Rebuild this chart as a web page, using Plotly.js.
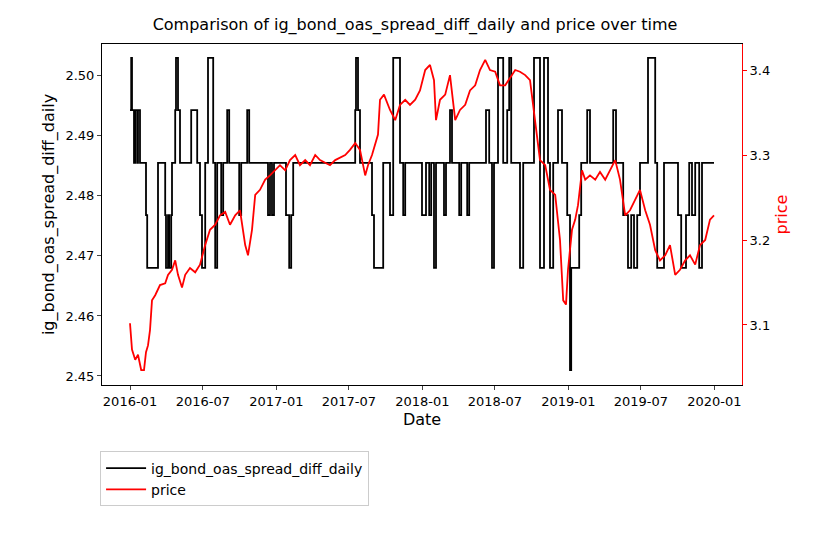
<!DOCTYPE html>
<html>
<head>
<script src="https://cdn.plot.ly/plotly-3.0.1.min.js"></script>
</head>
<body style="margin:0">
<div id="chart" style="width:830px;height:534px"></div>
<script>
// black series: day offsets from 2016-01-01 and levels (step-like)
const spreadDays = [0,2.5,5,10,12.5,17.5,20,25,40,42.5,70,87.5,90,95,97.5,102.5,105,112.5,115,120,125,152.5,167.5,175,180,187.5,195,207.5,212.5,217.5,227.5,232.5,242.5,247.5,272.5,277.5,292.5,297.5,345,350,355,360,390,397.5,402.5,407.5,562.5,565,570,575,605,610,632.5,650,657.5,675,682.5,687.5,730,740,747.5,752.5,760,765,785,790,800,805,822.5,827.5,842.5,847.5,890,897.5,905,910,920,932.5,942.5,947.5,952.5,975,982.5,1010,1025,1035,1045,1050,1057.5,1070,1080,1092.5,1100,1102.5,1122.5,1127.5,1142.5,1150,1207.5,1215,1232.5,1245,1252.5,1260,1267.5,1275,1295,1312.5,1317.5,1335,1370,1377.5,1390,1397.5,1405,1412.5,1422.5,1430,1460];
const spreadVals = [2.4943,2.503,2.4943,2.4855,2.4943,2.4855,2.4943,2.4855,2.4768,2.468,2.4855,2.4768,2.468,2.4768,2.468,2.4768,2.4855,2.4943,2.503,2.4943,2.4855,2.4943,2.4855,2.4768,2.468,2.4855,2.503,2.4855,2.468,2.4855,2.4768,2.4855,2.4943,2.4855,2.4768,2.4855,2.4943,2.4855,2.4768,2.4855,2.4768,2.4855,2.4768,2.468,2.4768,2.4855,2.4943,2.503,2.4943,2.4855,2.4768,2.468,2.4855,2.4768,2.503,2.4855,2.4768,2.4855,2.4768,2.4855,2.4768,2.4855,2.468,2.4855,2.4768,2.4855,2.4943,2.4855,2.4768,2.4855,2.4768,2.4855,2.4943,2.4855,2.468,2.4855,2.503,2.4855,2.4943,2.503,2.4855,2.468,2.4855,2.503,2.468,2.503,2.4855,2.468,2.4855,2.4943,2.4855,2.4768,2.451,2.468,2.4768,2.4855,2.4943,2.4855,2.4943,2.4855,2.4768,2.468,2.4768,2.468,2.4768,2.4855,2.503,2.4855,2.468,2.4855,2.4768,2.468,2.4768,2.4855,2.4768,2.4855,2.468,2.4855,2.4855];

// red series: price
const priceDays = [0,5,12.5,20,27.5,35,40,45,50,55,62.5,75,87.5,95,105,112.5,120,130,137.5,150,162.5,175,187.5,200,212.5,225,237.5,250,262.5,275,287.5,295,305,312.5,325,337.5,350,362.5,375,387.5,400,412.5,425,437.5,450,462.5,475,500,512.5,537.5,550,562.5,575,587.5,595,605,620,625,635,650,662.5,675,687.5,700,712.5,725,737.5,750,760,765,775,787.5,800,812.5,825,837.5,850,862.5,875,887.5,900,912.5,925,937.5,950,962.5,975,987.5,1000,1012.5,1025,1037.5,1050,1062.5,1075,1082.5,1090,1095,1105,1112.5,1120,1130,1137.5,1150,1162.5,1175,1187.5,1200,1212.5,1225,1237.5,1250,1262.5,1275,1287.5,1300,1312.5,1325,1337.5,1350,1362.5,1375,1387.5,1400,1412.5,1425,1437.5,1450,1460];
const priceVals = [3.102,3.071,3.059,3.065,3.047,3.047,3.068,3.076,3.094,3.129,3.135,3.147,3.149,3.159,3.165,3.176,3.159,3.144,3.159,3.167,3.162,3.171,3.194,3.212,3.218,3.229,3.233,3.218,3.229,3.235,3.194,3.182,3.212,3.253,3.259,3.271,3.276,3.282,3.288,3.282,3.294,3.300,3.288,3.294,3.288,3.300,3.294,3.288,3.294,3.300,3.306,3.314,3.306,3.276,3.288,3.300,3.324,3.365,3.371,3.353,3.341,3.359,3.365,3.359,3.365,3.376,3.400,3.406,3.388,3.341,3.365,3.371,3.394,3.341,3.353,3.359,3.376,3.382,3.400,3.412,3.400,3.398,3.382,3.382,3.391,3.400,3.398,3.394,3.388,3.341,3.294,3.288,3.259,3.253,3.200,3.129,3.124,3.165,3.212,3.224,3.241,3.282,3.271,3.276,3.271,3.280,3.271,3.282,3.294,3.271,3.229,3.235,3.247,3.259,3.235,3.218,3.188,3.176,3.182,3.194,3.159,3.165,3.176,3.182,3.171,3.194,3.200,3.224,3.229];

function toDate(d) {
  const t = new Date(Date.UTC(2016, 0, 1) + Math.round(d) * 86400000);
  return t.toISOString().slice(0, 10);
}

const font = { family: "DejaVu Sans", size: 13, color: "black" };

Plotly.newPlot("chart", [
  {
    x: spreadDays.map(toDate), y: spreadVals,
    type: "scatter", mode: "lines", line: { color: "black", width: 1.8, shape: "hv" },
    name: "ig_bond_oas_spread_diff_daily"
  },
  {
    x: priceDays.map(toDate), y: priceVals, yaxis: "y2",
    type: "scatter", mode: "lines", line: { color: "red", width: 1.8 },
    name: "price"
  }
], {
  width: 830, height: 534,
  margin: { l: 102, r: 88, t: 44, b: 149 },
  font: font,
  plot_bgcolor: "white", paper_bgcolor: "white",
  title: { text: "Comparison of ig_bond_oas_spread_diff_daily and price over time", font: { family: "DejaVu Sans", size: 16 }, x: 0.5, y: 0.965 },
  xaxis: {
    type: "date", range: ["2015-10-23", "2020-03-10"], dtick: "M6", tick0: "2016-01-01", tickformat: "%Y-%m",
    showgrid: false, showline: true, linecolor: "black", mirror: true, ticks: "outside", ticklen: 4,
    title: { text: "Date", standoff: 6 }, zeroline: false
  },
  yaxis: {
    range: [2.4485, 2.5053], dtick: 0.01, tickformat: ".2f",
    showgrid: false, showline: true, linecolor: "black", ticks: "outside", ticklen: 4,
    title: { text: "ig_bond_oas_spread_diff_daily", standoff: 6 }, zeroline: false
  },
  yaxis2: {
    overlaying: "y", side: "right", range: [3.0294, 3.4306], dtick: 0.1, tickformat: ".1f",
    showgrid: false, showline: true, linecolor: "red", ticks: "outside", ticklen: 4, tickcolor: "red",
    tickfont: { color: "black" }, title: { text: "price", font: { color: "red" }, standoff: 6 }, zeroline: false
  },
  showlegend: true,
  legend: {
    x: -0.003, y: -0.195, xanchor: "left", yanchor: "top",
    bordercolor: "#cccccc", borderwidth: 1, font: { size: 14 }, tracegroupgap: 8,
    itemwidth: 40
  }
}, { displayModeBar: false });
</script>
</body>
</html>
